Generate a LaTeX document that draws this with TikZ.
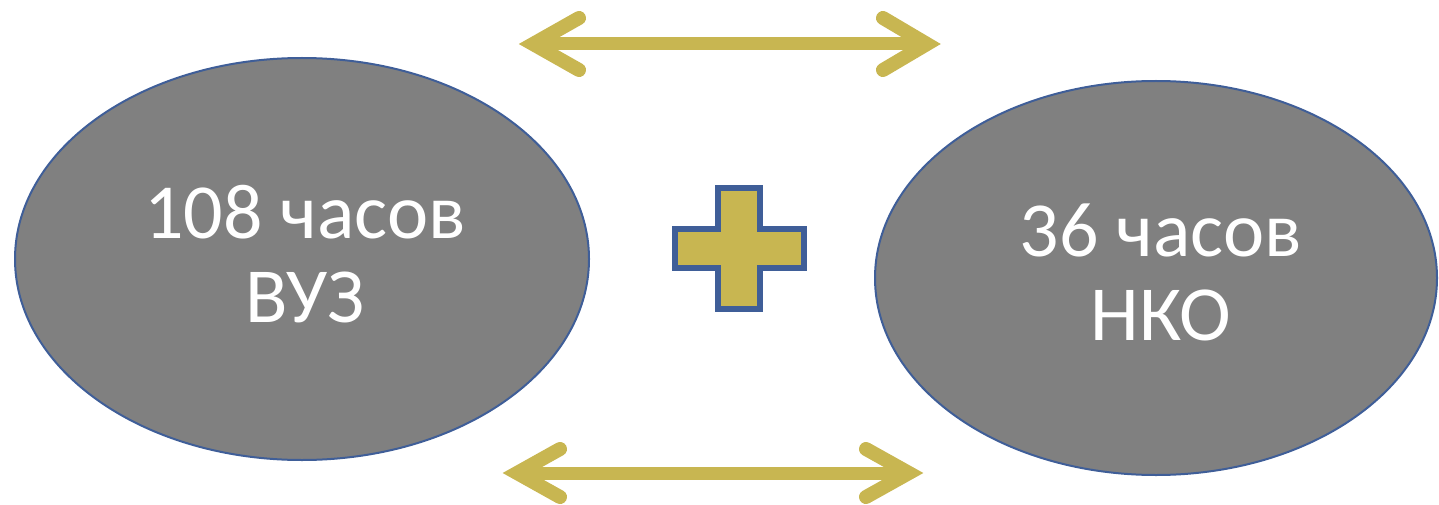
\documentclass[tikz,border=0pt]{standalone}
\usepackage{fontspec}
\setmainfont{Carlito}
\usetikzlibrary{shapes.geometric}
\definecolor{gold}{HTML}{C8B651}
\definecolor{edgeblue}{HTML}{3F5E98}
\definecolor{ovalgray}{HTML}{808080}
\tikzset{
  oval/.style={ellipse, draw=edgeblue, line width=2pt, fill=ovalgray, inner sep=0pt},
  ovaltext/.style={text=white, align=center, inner sep=0pt, font=\fontsize{78}{84}\selectfont},
  shaft/.style={draw=gold, line width=13pt},
  chevron/.style={draw=gold, line width=14pt, line cap=round, line join=miter},
}
\begin{document}
\begin{tikzpicture}[x=1pt,y=-1pt]
\useasboundingbox (0,0) rectangle (1439,505);
\node[oval, minimum width=574pt, minimum height=402pt] (vuz) at (302,259) {};
\node[ovaltext] (vuzt) at (305,254) {108 часов\\ВУЗ};
\node[oval, minimum width=562pt, minimum height=394pt] (nko) at (1156,278) {};
\node[ovaltext] (nkot) at (1161,272) {36 часов\\НКО};
% top arrow
\coordinate (tl) at (533,44);
\coordinate (tr) at (927,44);
\draw[shaft] (tl) -- (tr);
\draw[chevron] (579,18) -- (tl) -- (579,70);
\draw[chevron] (883,18) -- (tr) -- (883,70);
% bottom arrow
\coordinate (bl) at (517,473);
\coordinate (br) at (909,473);
\draw[shaft] (bl) -- (br);
\draw[chevron] (560,449) -- (bl) -- (560,497);
\draw[chevron] (866,449) -- (br) -- (866,497);
% plus sign
\coordinate (plus) at (739,248.5);
\draw[draw=edgeblue, fill=gold, line width=6pt, line join=miter]
  (718,188) -- (760,188) -- (760,229) -- (804,229) -- (804,268) -- (760,268)
  -- (760,309) -- (718,309) -- (718,268) -- (675,268) -- (675,229) -- (718,229) -- cycle;
\end{tikzpicture}
\end{document}
